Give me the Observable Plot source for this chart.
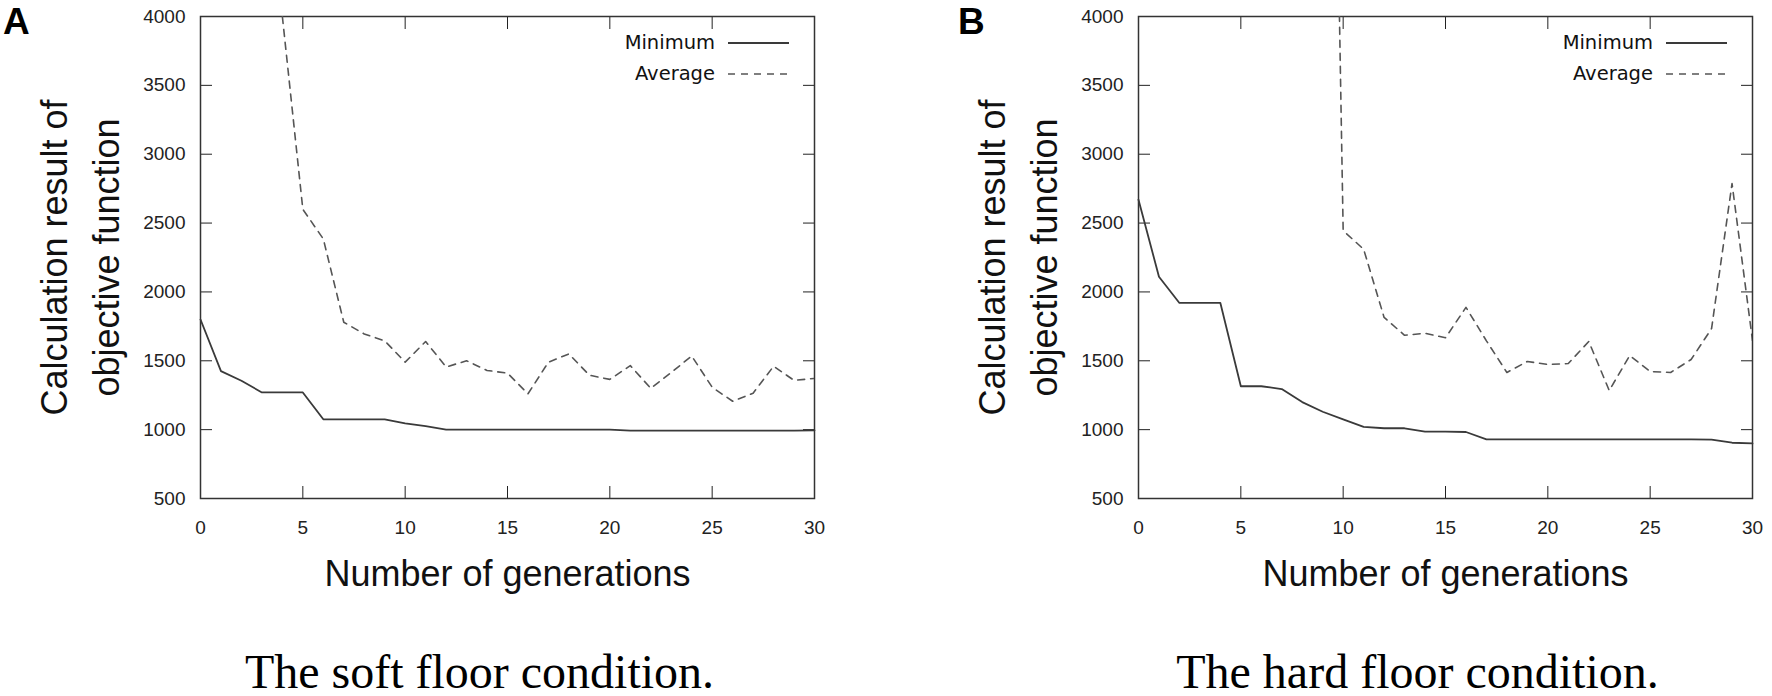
<!DOCTYPE html>
<html>
<head>
<meta charset="utf-8">
<script src="https://cdn.jsdelivr.net/npm/d3@7"></script>
<script src="https://cdn.jsdelivr.net/npm/@observablehq/plot@0.6"></script>
<style>
  body { margin: 0; background: #fff; }
  #fig { position: relative; width: 1772px; height: 696px; overflow: hidden; background: #fff; }
  .panel { position: absolute; top: 0; width: 834px; height: 696px; }
  .letter { position: absolute; top: 3px; font: bold 37px/37px "Liberation Sans", Arial, sans-serif; color: #000; }
  .legend { position: absolute; left: 560px; top: 27px; width: 155px; text-align: right;
            font: 19.5px/31px "DejaVu Sans", Verdana, sans-serif; color: #111; }
  .sample { position: absolute; left: 728px; top: 0; }
</style>
</head>
<body>
<div id="fig"></div>
<script>
const generations = [0, 1, 2, 3, 4, 5, 6, 7, 8, 9, 10, 11, 12, 13, 14, 15, 16, 17, 18, 19, 20, 21, 22, 23, 24, 25, 26, 27, 28, 29, 30]
const xTicks = [0, 5, 10, 15, 20, 25, 30]
const yTicks = [500, 1000, 1500, 2000, 2500, 3000, 3500, 4000]

// A: soft floor
const softMinimum = [1800, 1425, 1355, 1270, 1270, 1270, 1075, 1075, 1075, 1075, 1045, 1025, 1000, 1000, 1000, 1000,
  1000, 1000, 1000, 1000, 1000, 993, 993, 993, 993, 993, 993, 993, 993, 993, 995]
const softAverage = [null, null, null, null, 4000, 2600, 2385, 1780, 1695, 1645, 1490, 1640, 1455, 1500, 1430, 1410,
  1260, 1490, 1550, 1395, 1365, 1465, 1300, 1415, 1535, 1308, 1206, 1265, 1460, 1358, 1372]

// B: hard floor
const hardMinimum = [2670, 2110, 1920, 1920, 1920, 1315, 1315, 1295, 1200, 1130, 1075, 1020, 1010, 1010, 985, 985,
  983, 930, 930, 930, 930, 930, 930, 930, 930, 930, 930, 930, 928, 905, 900]
const hardAverage = [null, null, null, null, null, null, null, null, null, 11000, 2445, 2310, 1815, 1685, 1700, 1667,
  1888, 1645, 1415, 1495, 1473, 1480, 1640, 1284, 1538, 1422, 1415, 1509, 1734, 2787, 1647]

const yTitle = "Calculation result of\nobjective function"
const xTitle = "Number of generations"
const legendLabels = ["Minimum", "Average"]

const fig = d3.select('#fig')

function panel(minimum, average, caption, letter, left, letterLeft) {
  const rows = generations.map((g, i) => ({g, minimum: minimum[i], average: average[i]}))
  const chart = Plot.plot({
    width: 834,
    height: 696,
    marginLeft: 200,
    marginRight: 20,
    marginTop: 16,
    marginBottom: 198,
    x: {domain: [0, 30]},
    y: {domain: [500, 4000]},
    style: {
      fontFamily: '"Liberation Sans", Arial, sans-serif',
      fontSize: '19px',
      color: '#222',
      background: 'transparent',
      overflow: 'visible',
    },
    marks: [
      Plot.axisY(yTicks, {anchor: 'left', tickSize: -12, tickPadding: 27, label: null, fontSize: 19, tickFormat: d => String(d)}),
      Plot.axisY(yTicks, {anchor: 'right', tickSize: -12, tickFormat: () => '', label: null}),
      Plot.axisX(xTicks, {anchor: 'bottom', tickSize: -12, tickPadding: 34, label: null, fontSize: 19, tickFormat: d => String(d)}),
      Plot.axisX(xTicks, {anchor: 'top', tickSize: -12, tickFormat: () => '', label: null}),
      Plot.frame({stroke: '#333', strokeWidth: 1.5}),
      Plot.line(rows, {x: 'g', y: 'minimum', stroke: '#3a3a3a', strokeWidth: 1.8}),
      Plot.line(rows, {
        x: 'g', y: 'average', stroke: '#555', strokeWidth: 1.6,
        strokeDasharray: '7,6', clip: true
      }),
      Plot.text([yTitle], {
        frameAnchor: 'left', textAnchor: 'middle', rotate: -90, dx: -124,
        fontSize: 36, lineHeight: 1.44, fill: '#111'
      }),
      Plot.text([xTitle], {frameAnchor: 'bottom', dy: 87, fontSize: 36, fill: '#111'}),
      Plot.text([caption], {
        frameAnchor: 'bottom', dx: -28, dy: 189, lineAnchor: 'bottom',
        fontSize: 48, fill: '#000',
        fontFamily: '"Liberation Serif", "Times New Roman", serif'
      }),
    ],
  })

  const div = fig.append('div').attr('class', 'panel').style('left', left + 'px')
  div.append(() => chart)

  // legend, top right inside the frame
  div.append('div').attr('class', 'legend').html(legendLabels.join('<br>'))
  const svg = div.append('svg').attr('class', 'sample').attr('width', 62).attr('height', 90)
  svg.append('line').attr('x1', 0).attr('x2', 61).attr('y1', 43).attr('y2', 43)
    .attr('stroke', '#3a3a3a').attr('stroke-width', 1.8)
  svg.append('line').attr('x1', 0).attr('x2', 61).attr('y1', 74).attr('y2', 74)
    .attr('stroke', '#555').attr('stroke-width', 1.6).attr('stroke-dasharray', '7,6')

  fig.append('div').attr('class', 'letter').style('left', letterLeft + 'px').text(letter)
}

panel(softMinimum, softAverage, 'The soft floor condition.', 'A', 0, 3)
panel(hardMinimum, hardAverage, 'The hard floor condition.', 'B', 938, 958)
</script>
</body>
</html>
